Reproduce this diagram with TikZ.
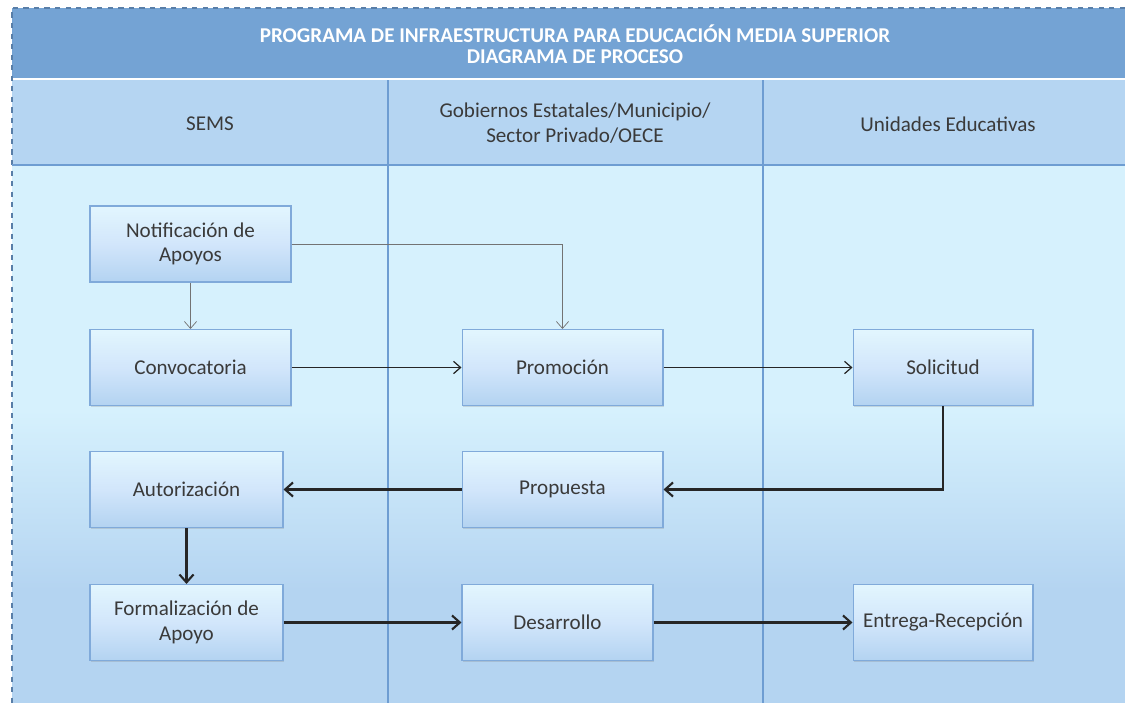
\documentclass[tikz,border=0pt]{standalone}
\usepackage{fontspec}
\setmainfont{Carlito}
\usetikzlibrary{arrows.meta,shadows}
\definecolor{titlecol}{HTML}{74A3D4}
\definecolor{headcol}{HTML}{B5D5F2}
\definecolor{bodytop}{HTML}{D6F1FD}
\definecolor{bodymid}{HTML}{D8D8FA}
\definecolor{bodybot}{HTML}{B4D4F1}
\definecolor{linecol}{HTML}{6E9DD2}
\definecolor{boxtop}{HTML}{E2F6FE}
\definecolor{boxmid}{HTML}{D2E6FB}
\definecolor{boxbot}{HTML}{B3D3F1}
\definecolor{boxline}{HTML}{80AADA}
\definecolor{txtcol}{HTML}{3A3A3A}
\begin{document}
\begin{tikzpicture}[x=0.02cm,y=-0.02cm,font=\large,
  procbox/.style={draw=boxline,line width=0.6pt,top color=boxtop,bottom color=boxbot,middle color=boxmid,
    drop shadow={opacity=0.25,shadow xshift=0.6pt,shadow yshift=-0.8pt},
    minimum height=1.52cm,inner sep=2pt,align=center,text=txtcol},
  thinflow/.style={draw=black!55,line width=0.4pt,-{Straight Barb[length=4pt,width=7pt]}},
  flow/.style={draw=black!85,line width=0.7pt,-{Straight Barb[length=4pt,width=7pt]}},
  thickflow/.style={draw=black!85,line width=1.2pt,-{Straight Barb[length=4.5pt,width=8pt]}}]
\useasboundingbox (0,0) rectangle (1125,703);
% bands
\fill[white] (0,0) rectangle (1125,703);
\fill[titlecol] (12,8) rectangle (1125,78);
\fill[headcol] (12,80) rectangle (1125,165);
\fill[bodytop] (12,165) rectangle (1125,410);
\shade[top color=bodytop,middle color=bodymid,bottom color=bodybot] (12,410) rectangle (1125,590);
\fill[bodybot] (12,590) rectangle (1125,703);
\draw[linecol!80!black,dashed,line width=0.8pt] (1125,8) -- (12,8) -- (12,703);
\draw[linecol,line width=0.6pt] (12,165) -- (1125,165);
\draw[linecol,line width=0.8pt] (388,80) -- (388,703);
\draw[linecol,line width=0.6pt] (763,80) -- (763,703);
% texts
\node[text=white,font=\large\bfseries,align=center] (title) at (575,44) {PROGRAMA DE INFRAESTRUCTURA PARA EDUCACIÓN MEDIA SUPERIOR\\[-2pt]DIAGRAMA DE PROCESO};
\node[text=txtcol] (sems) at (210,124) {SEMS};
\node[text=txtcol,align=center] (gob) at (575,123) {Gobiernos Estatales/Municipio/\\Sector Privado/OECE};
\node[text=txtcol] (unid) at (948,124) {Unidades Educativas};
% boxes
\node[procbox,minimum width=4.02cm] (notif) at (190.5,244) {Notificación de\\Apoyos};
\node[procbox,minimum width=4.02cm] (convoc) at (190.5,367.5) {Convocatoria};
\node[procbox,minimum width=4.02cm] (promo) at (562.5,367.5) {Promoción};
\node[procbox,minimum width=3.6cm] (solic) at (943,367.5) {Solicitud};
\node[procbox,minimum width=3.86cm] (autor) at (186.5,489.5) {Autorización};
\node[procbox,minimum width=4.02cm] (prop) at (562.5,489.5) {Propuesta};
\node[procbox,minimum width=3.86cm] (formal) at (186.5,622.5) {Formalización de\\Apoyo};
\node[procbox,minimum width=3.82cm] (desarr) at (557.5,622.5) {Desarrollo};
\node[procbox,minimum width=3.6cm] (entrega) at (943,622.5) {Entrega-Recepción};
% flows
\draw[thinflow] (notif) -- (convoc);
\draw[thinflow] (notif.east) -| (promo.north);
\draw[flow] (convoc) -- (promo);
\draw[flow] (promo) -- (solic);
\draw[thickflow] (solic.south) |- (prop.east);
\draw[thickflow] (prop) -- (autor);
\draw[thickflow] (autor) -- (formal);
\draw[thickflow] (formal) -- (desarr);
\draw[thickflow] (desarr) -- (entrega);
\end{tikzpicture}
\end{document}
